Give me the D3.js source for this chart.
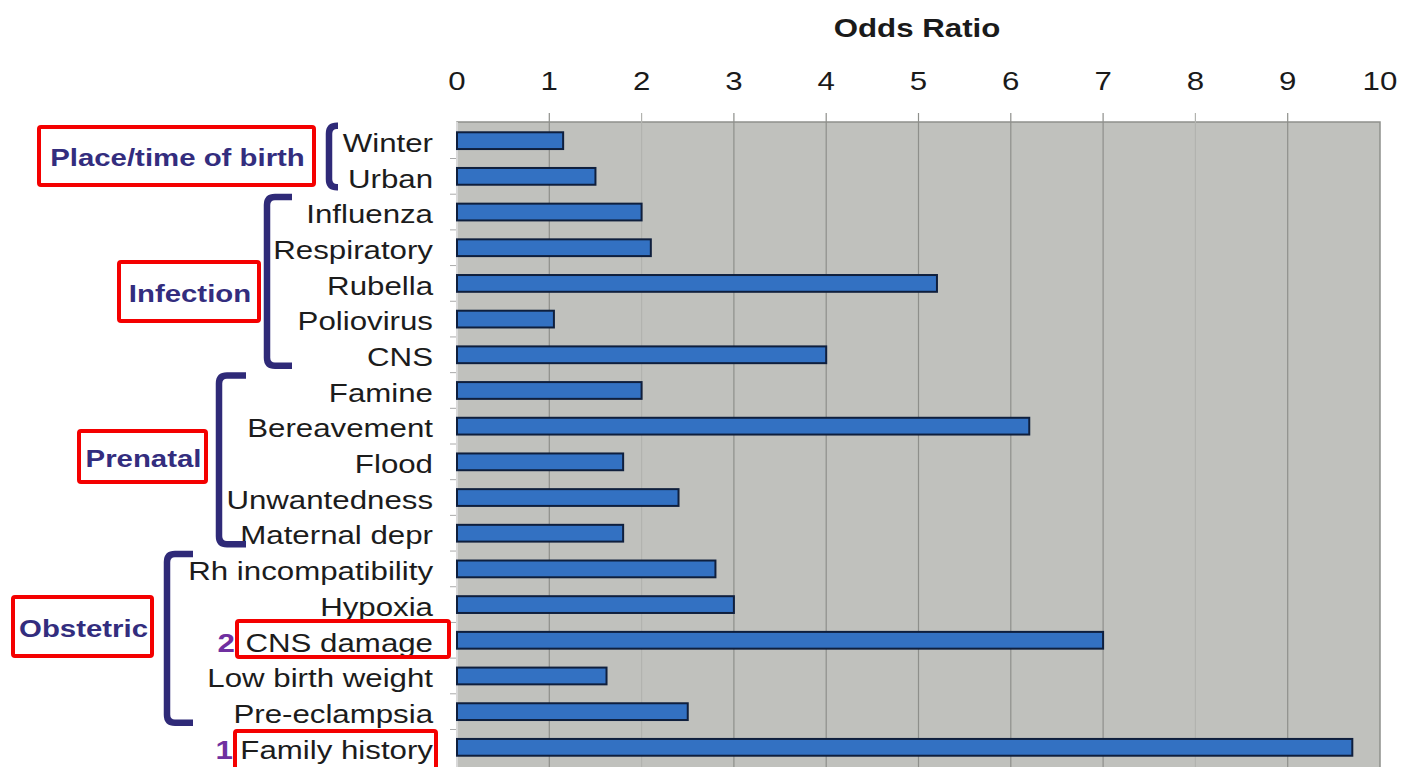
<!DOCTYPE html>
<html>
<head>
<meta charset="utf-8">
<script src="https://cdn.jsdelivr.net/npm/d3@7"></script>
<style>
  body { margin: 0; background: #fff; }
  svg { display: block; }
</style>
</head>
<body>
<div id="chart"></div>
<script>
// data
const categories = [
  'Winter', 'Urban',
  'Influenza', 'Respiratory', 'Rubella', 'Poliovirus', 'CNS',
  'Famine', 'Bereavement', 'Flood', 'Unwantedness', 'Maternal depr',
  'Rh incompatibility', 'Hypoxia', 'CNS damage', 'Low birth weight', 'Pre-eclampsia',
  'Family history'
];
const oddsRatios = [
  1.15, 1.5,
  2.0, 2.1, 5.2, 1.05, 4.0,
  2.0, 6.2, 1.8, 2.4, 1.8,
  2.8, 3.0, 7.0, 1.62, 2.5,
  9.7
];
const tickValues = [0, 1, 2, 3, 4, 5, 6, 7, 8, 9, 10];
const groupNames = ['Place/time of birth', 'Infection', 'Prenatal', 'Obstetric'];
const groupFirst = ['Winter', 'Influenza', 'Famine', 'Rh incompatibility'];
const groupLast = ['Urban', 'CNS', 'Maternal depr', 'Pre-eclampsia'];
const highlighted = ['Family history', 'CNS damage'];
const highlightRanks = ['1', '2'];

const width = 1414, height = 767;
const stretch = 1.25; // the source picture is widened, text looks stretched

const svg = d3.select('#chart').append('svg')
  .attr('width', width)
  .attr('height', height)
  .attr('viewBox', `0 0 ${width} ${height}`)
  .attr('font-family', 'Liberation Sans, Arial, sans-serif');

// text drawn at (tx, ty) and widened horizontally
function wideText(parent, tx, ty, str) {
  return parent.append('text')
    .attr('transform', `translate(${tx},${ty}) scale(${stretch},1)`)
    .text(str);
}

const x = d3.scaleLinear().domain([0, 10]).range([457, 1380]);
const y = d3.scaleBand().domain(categories).range([123, 765]).paddingInner(0.53).paddingOuter(0.26);

// plot background
svg.append('rect')
  .attr('x', x(0)).attr('y', 122)
  .attr('width', x(10) - x(0)).attr('height', height - 122 + 5)
  .attr('fill', '#c0c1bd')
  .attr('stroke', '#8f908c')
  .attr('stroke-width', 1.5);

// gridlines
svg.append('g').selectAll('line')
  .data(tickValues.filter(d => d > 0 && d < 10))
  .join('line')
  .attr('x1', d => x(d)).attr('x2', d => x(d))
  .attr('y1', 113).attr('y2', height)
  .attr('stroke', d => (d === 2 || d === 8) ? '#b2b3af' : '#8e8f8b')
  .attr('stroke-width', 1.2);

// top axis labels
const gTicks = svg.append('g')
  .attr('font-size', 25)
  .attr('fill', '#1a1a1a')
  .attr('text-anchor', 'middle');
tickValues.forEach(v => wideText(gTicks, x(v), 90, v));

wideText(svg, 917, 37, 'Odds Ratio')
  .attr('text-anchor', 'middle')
  .attr('font-size', 25)
  .attr('font-weight', 'bold')
  .attr('fill', '#1a1a1a');

// left axis ticks between bands
svg.append('g').selectAll('line')
  .data(categories.slice(1))
  .join('line')
  .attr('x1', x(0) - 7).attr('x2', x(0))
  .attr('y1', d => y(d) - y.step() * y.paddingInner() / 2)
  .attr('y2', d => y(d) - y.step() * y.paddingInner() / 2)
  .attr('stroke', '#aaa');
svg.append('line')
  .attr('x1', x(0)).attr('x2', x(0))
  .attr('y1', 122).attr('y2', height)
  .attr('stroke', '#d8d8d8').attr('stroke-width', 2);

// bars
svg.append('g').selectAll('rect')
  .data(categories)
  .join('rect')
  .attr('x', x(0))
  .attr('y', d => y(d))
  .attr('width', (d, i) => x(oddsRatios[i]) - x(0))
  .attr('height', y.bandwidth())
  .attr('fill', '#3371c2')
  .attr('stroke', '#0f1f3d')
  .attr('stroke-width', 2);

// category labels
const gLabels = svg.append('g')
  .attr('font-size', 25)
  .attr('fill', '#1c1c1c')
  .attr('text-anchor', 'end');
categories.forEach(c => {
  wideText(gLabels, 433, y(c) + y.bandwidth() / 2, c).attr('dy', '0.45em');
});

// group brackets
const bracketX = [329, 267, 219, 167];
const bracketArm = [9, 25, 27, 26];
const bracketColor = '#2f2a78';
groupNames.forEach((name, i) => {
  const top = y(groupFirst[i]) + y.bandwidth() / 2 - 15;
  const bot = y(groupLast[i]) + y.bandwidth() / 2 + 11;
  const bx = bracketX[i], arm = bracketArm[i], r = 8;
  const p = d3.path();
  p.moveTo(bx + arm, top);
  p.lineTo(bx + r, top);
  p.quadraticCurveTo(bx, top, bx, top + r);
  p.lineTo(bx, bot - r);
  p.quadraticCurveTo(bx, bot, bx + r, bot);
  p.lineTo(bx + arm, bot);
  svg.append('path')
    .attr('d', p.toString())
    .attr('fill', 'none')
    .attr('stroke', bracketColor)
    .attr('stroke-width', 6.5);
});

// group label boxes
const groupBox = [
  { x: 39, y: 127, w: 275, h: 58 },
  { x: 119, y: 262, w: 140, h: 59 },
  { x: 79, y: 431, w: 127, h: 51 },
  { x: 13, y: 597, w: 139, h: 59 }
];
groupNames.forEach((name, i) => {
  const b = groupBox[i];
  svg.append('rect')
    .attr('x', b.x).attr('y', b.y)
    .attr('width', b.w).attr('height', b.h)
    .attr('fill', 'none')
    .attr('stroke', '#f40000')
    .attr('stroke-width', 4)
    .attr('rx', 2);
  wideText(svg, b.x + b.w / 2 + 1, b.y + b.h / 2 + 2, name)
    .attr('dy', '0.36em')
    .attr('text-anchor', 'middle')
    .attr('font-size', 23.5)
    .attr('font-weight', 'bold')
    .attr('fill', '#332d7e');
});

// highlighted rows with ranks
const hiBox = [
  { x: 235, y: 731, w: 201, h: 45 },
  { x: 237, y: 621, w: 212, h: 36 }
];
highlighted.forEach((cat, i) => {
  const b = hiBox[i];
  svg.append('rect')
    .attr('x', b.x).attr('y', b.y)
    .attr('width', b.w).attr('height', b.h)
    .attr('fill', 'none')
    .attr('stroke', '#f40000')
    .attr('stroke-width', 4)
    .attr('rx', 2);
  wideText(svg, b.x - 2, y(cat) + y.bandwidth() / 2, highlightRanks[i])
    .attr('dy', '0.45em')
    .attr('text-anchor', 'end')
    .attr('font-size', 25)
    .attr('font-weight', 'bold')
    .attr('fill', '#7030a0');
});
</script>
</body>
</html>
